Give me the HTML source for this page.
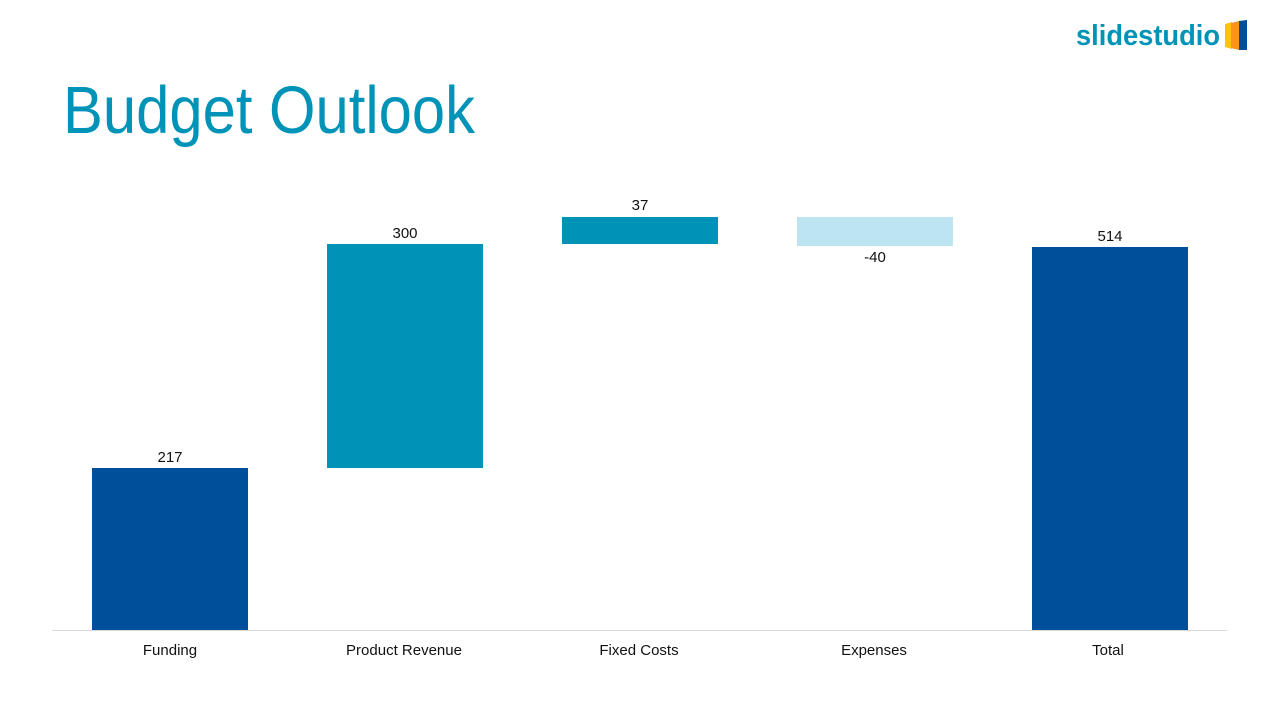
<!DOCTYPE html>
<html><head><meta charset="utf-8"><style>
html,body{margin:0;padding:0;background:#fff;}
body{width:1280px;height:720px;overflow:hidden;position:relative;font-family:"Liberation Sans",sans-serif;}
</style></head><body>
<svg width="1280" height="720" viewBox="0 0 1280 720" xmlns="http://www.w3.org/2000/svg" style="position:absolute;left:0;top:0">
<text x="63" y="133" font-family="Liberation Sans, sans-serif" font-size="67" fill="#0093b8" textLength="412" lengthAdjust="spacingAndGlyphs">Budget Outlook</text>
<text x="1076" y="45" font-family="Liberation Sans, sans-serif" font-weight="bold" font-size="29" fill="#0093b8" textLength="144" lengthAdjust="spacingAndGlyphs">slidestudio</text>
<polygon points="1225,24 1232,22 1232,49 1225,47" fill="#ffc20e"/>
<polygon points="1231,23 1239,21 1239,50 1231,48" fill="#f7941d"/>
<polygon points="1239,21 1247,20 1247,50 1239,50" fill="#004f9f"/>
<rect x="92" y="468" width="156" height="162" fill="#004f9b"/>
<rect x="327" y="244" width="156" height="224" fill="#0093b8"/>
<rect x="562" y="217" width="156" height="27" fill="#0093b8"/>
<rect x="797" y="217" width="156" height="29" fill="#bde5f1"/>
<rect x="1032" y="247" width="156" height="383" fill="#004f9b"/>
<line x1="52" y1="630.5" x2="1227" y2="630.5" stroke="#d9d9d9" stroke-width="1"/>
<g font-family="Liberation Sans, sans-serif" font-size="15" fill="#111" text-anchor="middle">
<text x="170" y="462">217</text>
<text x="405" y="238">300</text>
<text x="640" y="210">37</text>
<text x="875" y="262">-40</text>
<text x="1110" y="241">514</text>
<text x="170" y="655">Funding</text>
<text x="404" y="655">Product Revenue</text>
<text x="639" y="655">Fixed Costs</text>
<text x="874" y="655">Expenses</text>
<text x="1108" y="655">Total</text>
</g>
</svg>
</body></html>
